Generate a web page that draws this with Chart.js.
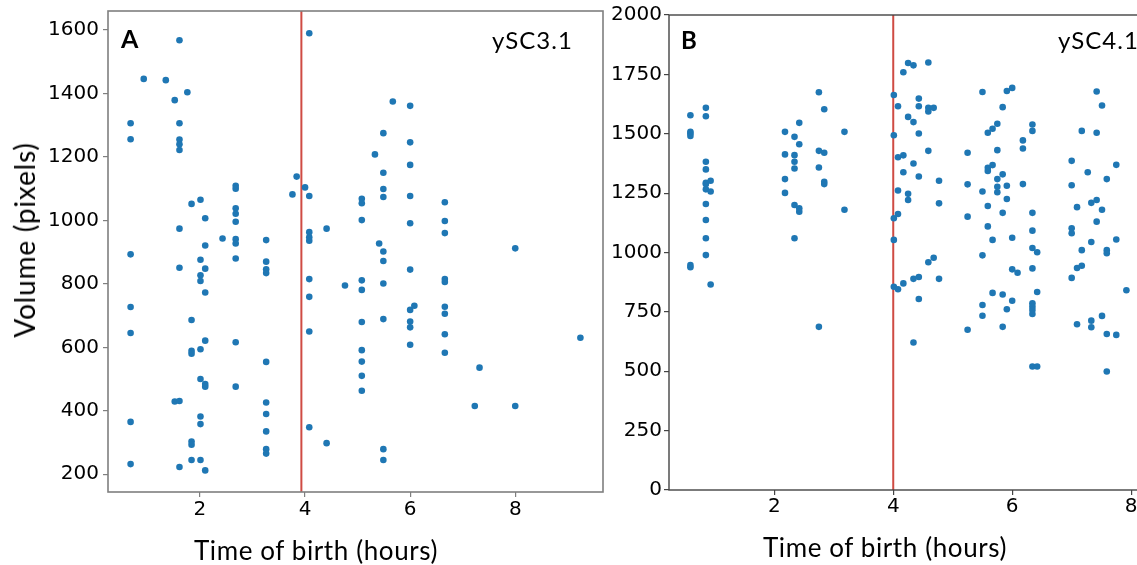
<!DOCTYPE html>
<html>
<head>
<meta charset="utf-8">
<script src="https://cdn.jsdelivr.net/npm/chart.js@4.4.1/dist/chart.umd.min.js"></script>
<style>
  html, body { margin: 0; padding: 0; background: #fff; }
  #wrap { position: relative; width: 1137px; height: 565px; overflow: hidden; }
  canvas { position: absolute; top: 0; }
  #chartA { left: 0; }
  #chartB { left: 600px; }
  .txt { position: absolute; font-family: Lato, sans-serif; color: #000; white-space: nowrap; line-height: 1; }
  .center { transform: translate(-50%, -50%); }
  .xtitle { font-size: 26px; letter-spacing: 0.6px; }
  .panel { font-weight: bold; }
  .strain { font-size: 24px; letter-spacing: 1px; }
</style>
</head>
<body>
<div id="wrap">
  <canvas id="chartA" width="610" height="565"></canvas>
  <canvas id="chartB" width="580" height="565"></canvas>

  <div class="txt" style="left:24px; top:240px; font-size:28px; letter-spacing:0.8px; transform: translate(-50%, -50%) rotate(-90deg);">Volume (pixels)</div>
  <div class="txt center xtitle" style="left:316px; top:550px;">Time of birth (hours)</div>
  <div class="txt center xtitle" style="left:885px; top:547px;">Time of birth (hours)</div>

  <div class="txt panel" style="left:121px; top:26px; font-size:25px;">A</div>
  <div class="txt panel" style="left:681px; top:28px; font-size:24px;">B</div>
  <div class="txt strain" style="left:492px; top:28px;">ySC3.1</div>
  <div class="txt strain" style="left:1058px; top:28px;">ySC4.1</div>
</div>

<script>
// Panel A (ySC3.1): birth-time columns and the volumes seen at each one
const birthA = [0.68, 0.93, 1.35, 1.52, 1.61, 1.76, 1.84, 2.01, 2.10, 2.43, 2.68, 3.26, 3.76, 3.84, 4.00,
  4.08, 4.41, 4.76, 5.08, 5.33, 5.41, 5.49, 5.67, 6.00, 6.08, 6.66, 7.23, 7.32, 8.00, 9.24];
const volumeA = [
  [1306, 1256, 893, 727, 645, 365, 232],
  [1446],
  [1442],
  [1379, 429],
  [1568, 1306, 1255, 1240, 1222, 974, 851, 431, 223],
  [1404],
  [1052, 686, 589, 580, 303, 293, 245],
  [1065, 876, 827, 809, 594, 500, 382, 358, 245],
  [1007, 921, 848, 773, 621, 484, 476, 212],
  [943],
  [1109, 1100, 1038, 1021, 996, 941, 927, 880, 616, 476],
  [938, 870, 846, 834, 554, 426, 390, 335, 279, 265],
  [1082],
  [1138],
  [1104],
  [1590, 1077, 963, 947, 936, 815, 759, 650, 348],
  [974, 298],
  [795],
  [1068, 1054, 1001, 811, 781, 680, 591, 555, 510, 463],
  [1208],
  [927],
  [1275, 1150, 1099, 1074, 902, 872, 801, 689, 279, 245],
  [1375],
  [1361, 1246, 1175, 1077, 991, 845, 718, 681, 663, 608],
  [731],
  [1057, 998, 960, 815, 806, 728, 706, 641, 583],
  [415],
  [536],
  [912, 415],
  [630]
];
const cutoffA = 3.93;
const xTicksA = [2, 4, 6, 8];
const yTicksA = [200, 400, 600, 800, 1000, 1200, 1400, 1600];

// Panel B (ySC4.1)
const birthB = [0.59, 0.85, 0.93, 2.18, 2.34, 2.42, 2.75, 2.84, 3.18, 4.01, 4.08, 4.17, 4.25, 4.34, 4.43,
  4.59, 4.68, 4.77, 5.25, 5.50, 5.59, 5.67, 5.75, 5.84, 5.91, 6.00, 6.09, 6.18, 6.34, 6.42,
  7.00, 7.09, 7.17, 7.27, 7.33, 7.42, 7.51, 7.59, 7.75, 7.92];
const volumeB = [
  [1578, 1508, 1501, 1491, 947, 938],
  [1609, 1574, 1382, 1350, 1293, 1288, 1266, 1204, 1137, 1060, 989],
  [1302, 1257, 865],
  [1508, 1413, 1309, 1251],
  [1487, 1410, 1382, 1354, 1200, 1060],
  [1546, 1456, 1186, 1172],
  [1675, 1428, 1358, 687],
  [1603, 1420, 1298, 1288],
  [1508, 1180],
  [1663, 1494, 1144, 1053, 856],
  [1616, 1401, 1261, 1162, 845],
  [1759, 1409, 1338, 870],
  [1798, 1571, 1247, 1221],
  [1788, 1549, 1375, 889, 621],
  [1648, 1616, 1501, 1320, 897, 804],
  [1800, 1609, 1594, 1428, 959],
  [1609, 978],
  [1302, 1207, 889],
  [1420, 1287, 1151, 675],
  [1676, 1257, 988, 779, 734],
  [1504, 1357, 1343, 1196, 1110],
  [1521, 1368, 1053, 830],
  [1542, 1431, 1309, 1277, 1254],
  [1612, 1329, 1167, 823, 687],
  [1680, 1281, 1225, 761],
  [1693, 1062, 929, 797],
  [915],
  [1472, 1438, 1288],
  [1539, 1512, 1167, 1092, 1019, 933, 786, 772, 758, 741, 520],
  [1001, 834, 520],
  [1386, 1283, 1102, 1081, 893],
  [1191, 935, 698],
  [1512, 1010, 944],
  [1338],
  [1209, 1044, 713, 685],
  [1678, 1504, 1221, 1130],
  [1619, 1180, 733],
  [1309, 1010, 997, 657, 499],
  [1369, 1055, 653],
  [841]
];
const cutoffB = 4.0;
const xTicksB = [2, 4, 6, 8];
const yTicksB = [0, 250, 500, 750, 1000, 1250, 1500, 1750, 2000];

const DOT = '#1f77b4';
const RED = '#cf4b43';

function toPoints(times, vols){
  const pts = [];
  times.forEach((t, i) => vols[i].forEach(v => pts.push({ x: t, y: v })));
  return pts;
}

// draws the box round the plot area, like matplotlib spines
const framePlugin = {
  id: 'frame',
  afterDatasetsDraw(chart, args, o){
    const { ctx, chartArea: a } = chart;
    ctx.save();
    ctx.strokeStyle = o.color;
    ctx.lineWidth = o.width;
    ctx.strokeRect(a.left, a.top, a.right - a.left, a.bottom - a.top);
    ctx.restore();
  }
};

function makeScatter(id, cfg){
  const tickFont = { family: "'DejaVu Sans'", size: 20 };
  const axis = (ticks, min, max, fit, pad) => ({
    type: 'linear',
    min, max,
    afterBuildTicks: s => { s.ticks = ticks.map(v => ({ value: v })); },
    afterFit: fit,
    border: { display: false },
    grid: { drawOnChartArea: false, drawTicks: true, tickLength: 5, color: cfg.spine, lineWidth: 1.2 },
    ticks: {
      font: tickFont, color: '#000', padding: pad, autoSkip: false, maxRotation: 0,
      callback: v => String(v)
    }
  });

  return new Chart(document.getElementById(id), {
    type: 'scatter',
    data: {
      datasets: [
        {
          data: toPoints(cfg.times, cfg.vols),
          backgroundColor: DOT,
          borderWidth: 0,
          pointRadius: 3.3
        },
        {
          type: 'line',
          data: [{ x: cfg.cutoff, y: cfg.yMin }, { x: cfg.cutoff, y: cfg.yMax }],
          borderColor: RED,
          borderWidth: 2,
          pointRadius: 0
        }
      ]
    },
    options: {
      responsive: false,
      animation: false,
      events: [],
      layout: { padding: cfg.padding },
      plugins: {
        legend: { display: false },
        tooltip: { enabled: false },
        frame: { color: cfg.spine, width: cfg.spineWidth }
      },
      scales: {
        x: axis(cfg.xTicks, cfg.xMin, cfg.xMax, s => { s.height = cfg.xHeight; s.paddingLeft = 0; s.paddingRight = 0; }, cfg.xPad),
        y: axis(cfg.yTicks, cfg.yMin, cfg.yMax, s => { s.width = cfg.yWidth; s.paddingTop = 0; s.paddingBottom = 0; }, cfg.yPad)
      }
    },
    plugins: [framePlugin]
  });
}

makeScatter('chartA', {
  times: birthA, vols: volumeA, cutoff: cutoffA,
  xTicks: xTicksA, yTicks: yTicksA,
  xMin: 0.25, xMax: 9.67, yMin: 144, yMax: 1660,
  padding: { top: 11, right: 7, left: 0, bottom: 0 },
  xHeight: 73, yWidth: 108, xPad: 1, yPad: 4,
  spine: '#7f7f7f', spineWidth: 1.6
});

// panel B runs past the right edge of the window, as in the source figure
makeScatter('chartB', {
  times: birthB, vols: volumeB, cutoff: cutoffB,
  xTicks: xTicksB, yTicks: yTicksB,
  xMin: 0.23, xMax: 8.3, yMin: 0, yMax: 2000,
  padding: { top: 15, right: 31, left: 0, bottom: 0 },
  xHeight: 75, yWidth: 69, xPad: 0, yPad: 2,
  spine: '#444444', spineWidth: 1.4
});
</script>
</body>
</html>
